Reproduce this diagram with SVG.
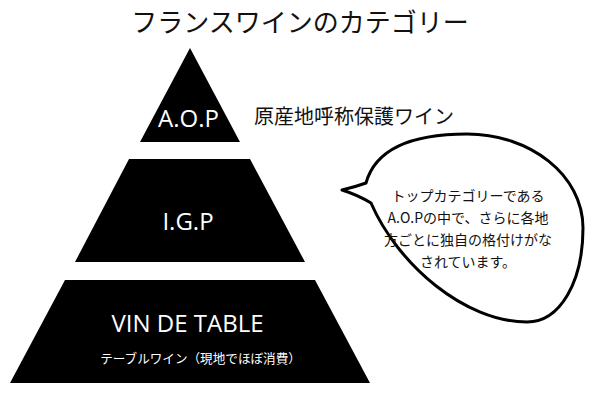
<svg xmlns="http://www.w3.org/2000/svg" width="600" height="400" viewBox="0 0 600 400">
  <style>
    .tier { fill: #000000; }
    .lat { font-family: "Open Sans", "Noto Sans CJK JP", sans-serif; fill: #ffffff; font-size: 24px; text-anchor: middle; }
    .jp { font-family: "Noto Sans CJK JP", sans-serif; fill: #111111; }
    .bubble { fill: #ffffff; stroke: #000000; stroke-width: 3; stroke-linejoin: round; }
  </style>
  <rect x="0" y="0" width="600" height="400" fill="#ffffff"/>

  <g id="title">
    <text class="jp" x="300" y="31.5" font-size="26" text-anchor="middle">フランスワインのカテゴリー</text>
  </g>

  <g id="tier-aop">
    <polygon class="tier" points="190,48 240,142 140,142"/>
    <text class="lat" x="188.5" y="127">A.O.P</text>
  </g>

  <g id="label-aop">
    <text class="jp" x="254" y="123.5" font-size="20">原産地呼称保護ワイン</text>
  </g>

  <g id="tier-igp">
    <polygon class="tier" points="129,159 250,159 305,262 75,262"/>
    <text class="lat" x="188" y="230">I.G.P</text>
  </g>

  <g id="tier-vdt">
    <polygon class="tier" points="65,280 315,280 370,383 10,383"/>
    <text class="lat" x="187.5" y="332">VIN DE TABLE</text>
    <text class="jp" x="200.5" y="363" font-size="12.6" text-anchor="middle" fill="#ffffff" style="fill:#ffffff">テーブルワイン（現地でほぼ消費）</text>
  </g>

  <g id="bubble">
    <path class="bubble" d="M366,183 C376,147 415,134 467,134 C530,134 583,175 583,228 C583,282 560,322 527,322 C465,322 398,265 371,203 Q358,195 342,190 Q355,187 366,183 Z"/>
    <g class="jp" font-size="14" text-anchor="middle">
      <text x="468" y="200.5">トップカテゴリーである</text>
      <text x="468" y="222.5">A.O.Pの中で、さらに各地</text>
      <text x="468" y="244.5">方ごとに独自の格付けがな</text>
      <text x="468" y="266.5">されています。</text>
    </g>
  </g>

  <g id="connectors"/>
</svg>
